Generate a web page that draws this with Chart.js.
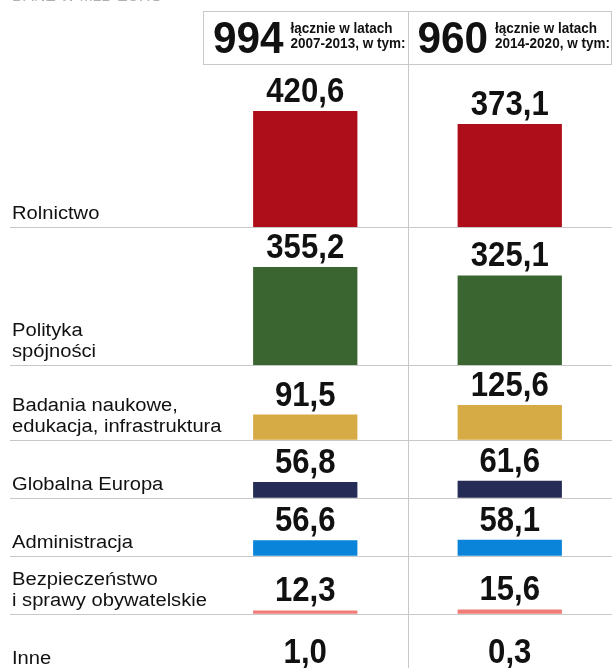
<!DOCTYPE html>
<html>
<head>
<meta charset="utf-8">
<script src="https://cdn.jsdelivr.net/npm/chart.js"></script>
<style>
  html, body { margin: 0; padding: 0; background: #fff; }
  #wrap { width: 616px; height: 668px; position: relative; }
</style>
</head>
<body>
<div id="wrap"><canvas id="budzet"></canvas></div>
<script>
// dane w mld euro
const periods = ['2007-2013', '2014-2020'];
const totals = [994, 960];
const categories = [
    ['Rolnictwo'],
    ['Polityka', 'spójności'],
    ['Badania naukowe,', 'edukacja, infrastruktura'],
    ['Globalna Europa'],
    ['Administracja'],
    ['Bezpieczeństwo', 'i sprawy obywatelskie'],
    ['Inne']
];
const values2007 = [420.6, 355.2, 91.5, 56.8, 56.6, 12.3, 1.0];
const values2014 = [373.1, 325.1, 125.6, 61.6, 58.1, 15.6, 0.3];
const colors = ['#ad0e1a', '#3a6530', '#d6aa44', '#252c55', '#0a84d8', '#f07c78', '#9a9a9a'];

const H = 668;
const PX = 0.276;            // px per mld euro
const yMax = H / PX;
const ROW_MIN = 58 / PX;     // minimal row height
const ROW_PAD = 40 / PX;     // room for the value label
const HEADER_BOTTOM = 71 / PX;

// each row gets its own baseline, stacked from the top
const bases = [];
let cur = yMax - HEADER_BOTTOM;
for (let i = 0; i < categories.length; i++) {
    const span = Math.max(ROW_MIN, Math.max(values2007[i], values2014[i]) + ROW_PAD);
    cur -= span;
    bases.push(cur);
}

const datasets = [];
for (let i = 0; i < categories.length; i++) {
    datasets.push({
        label: categories[i].join(' '),
        backgroundColor: colors[i],
        data: [
            [bases[i], bases[i] + values2007[i]],
            [bases[i], bases[i] + values2014[i]]
        ]
    });
}

const SANS = '"Liberation Sans", Arial, sans-serif';

// canvas text squeezed / stretched horizontally
function stretchText(ctx, text, x, y, font, sx, align) {
    ctx.save();
    ctx.font = font;
    const w = ctx.measureText(text).width * sx;
    let x0 = x;
    if (align === 'center') x0 = x - w / 2;
    ctx.translate(x0, y);
    ctx.scale(sx, 1);
    ctx.textAlign = 'left';
    ctx.fillText(text, 0, 0);
    ctx.restore();
    return w;
}

const infoPlugin = {
    id: 'info',
    beforeDatasetsDraw(chart) {
        const ctx = chart.ctx;
        const area = chart.chartArea;
        const xs = chart.scales.x;
        const ys = chart.scales.y;
        const mid = Math.round((xs.getPixelForValue(0) + xs.getPixelForValue(1)) / 2) + 0.5;

        ctx.save();
        ctx.strokeStyle = '#c8c8c8';
        ctx.lineWidth = 1;
        // row separators
        for (let i = 0; i < bases.length; i++) {
            const y = Math.round(ys.getPixelForValue(bases[i])) + 0.5;
            ctx.beginPath();
            ctx.moveTo(10, y);
            ctx.lineTo(area.right, y);
            ctx.stroke();
        }
        // column divider
        ctx.beginPath();
        ctx.moveTo(mid, 11);
        ctx.lineTo(mid, H);
        ctx.stroke();
        // header box
        ctx.strokeRect(area.left + 0.5, 11.5, area.right - area.left - 1, 53);
        ctx.restore();
    },
    afterDatasetsDraw(chart) {
        const ctx = chart.ctx;
        const area = chart.chartArea;
        const xs = chart.scales.x;
        const ys = chart.scales.y;
        const mid = (xs.getPixelForValue(0) + xs.getPixelForValue(1)) / 2;

        ctx.save();
        ctx.textBaseline = 'alphabetic';

        // cut-off note at the very top
        ctx.fillStyle = '#b0b0b0';
        stretchText(ctx, 'DANE W MLD EURO', 12, 1, '15px ' + SANS, 1.05, 'left');

        // header
        ctx.fillStyle = '#111';
        const lefts = [area.left, mid];
        for (let c = 0; c < periods.length; c++) {
            const x = lefts[c] + 10;
            const w = stretchText(ctx, String(totals[c]), x, 53, 'bold 45px ' + SANS, 0.94, 'left');
            const tx = x + w + 7;
            stretchText(ctx, 'łącznie w latach', tx, 33, 'bold 15px ' + SANS, 0.9, 'left');
            stretchText(ctx, periods[c] + ', w tym:', tx, 48, 'bold 15px ' + SANS, 0.9, 'left');
        }

        // category names
        for (let i = 0; i < categories.length; i++) {
            const baseY = ys.getPixelForValue(bases[i]);
            const lines = categories[i];
            for (let l = 0; l < lines.length; l++) {
                const y = baseY - 8 - (lines.length - 1 - l) * 21;
                stretchText(ctx, lines[l], 12, y, '18px ' + SANS, 1.12, 'left');
            }
        }

        // value labels above bars
        for (let i = 0; i < categories.length; i++) {
            const vals = [values2007[i], values2014[i]];
            for (let c = 0; c < 2; c++) {
                const x = xs.getPixelForValue(c);
                const top = ys.getPixelForValue(bases[i] + vals[c]);
                const txt = vals[c].toFixed(1).replace('.', ',');
                stretchText(ctx, txt, x, top - 9, 'bold 35px ' + SANS, 0.89, 'center');
            }
        }
        ctx.restore();
    }
};

new Chart(document.getElementById('budzet'), {
    type: 'bar',
    data: {
        labels: periods,
        datasets: datasets
    },
    options: {
        responsive: true,
        maintainAspectRatio: false,
        devicePixelRatio: 1,
        animation: false,
        grouped: false,
        barPercentage: 0.51,
        categoryPercentage: 1.0,
        layout: { padding: { left: 203, right: 4, top: 0, bottom: 0 } },
        plugins: {
            legend: { display: false },
            tooltip: { enabled: false },
            title: { display: false }
        },
        scales: {
            x: { display: false },
            y: { display: false, min: 0, max: yMax }
        }
    },
    plugins: [infoPlugin]
});
</script>
</body>
</html>
